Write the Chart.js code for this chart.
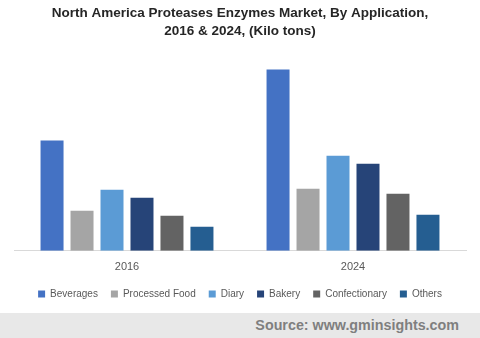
<!DOCTYPE html>
<html>
<head>
<meta charset="utf-8">
<script src="https://cdn.jsdelivr.net/npm/chart.js@4/dist/chart.umd.min.js"></script>
<style>
  html, body { margin: 0; padding: 0; background: #fff; }
  #wrap { position: relative; width: 480px; height: 313px; }
  #source {
    width: 480px; height: 25px; background: #e8e8e8;
    font: bold 14.3px "Liberation Sans", Arial, sans-serif; color: #7f7f7f;
    text-align: right; box-sizing: border-box; padding-right: 21px; line-height: 24px;
  }
</style>
</head>
<body>
<div id="wrap"><canvas id="chart"></canvas></div>
<div id="source">Source: www.gminsights.com</div>
<script>
var years = ['2016', '2024'];
var seriesNames = ['Beverages', 'Processed Food', 'Diary', 'Bakery', 'Confectionary', 'Others'];
var seriesColors = ['#4472c4', '#a5a5a5', '#5b9bd5', '#264478', '#636363', '#255e91'];
var beverages = [11.0, 18.1];
var processedFood = [4.0, 6.2];
var diary = [6.1, 9.5];
var bakery = [5.3, 8.7];
var confectionary = [3.5, 5.7];
var others = [2.4, 3.6];

var allValues = [beverages, processedFood, diary, bakery, confectionary, others];

var datasets = seriesNames.map(function(name, i) {
  return {
    label: name,
    data: allValues[i],
    backgroundColor: seriesColors[i],
    barPercentage: 0.767,
    categoryPercentage: 0.796
  };
});

var ctx = document.getElementById('chart').getContext('2d');
new Chart(ctx, {
  type: 'bar',
  data: { labels: years, datasets: datasets },
  options: {
    responsive: true,
    maintainAspectRatio: false,
    animation: false,
    layout: { padding: { left: 14, right: 14, top: 4, bottom: 4 } },
    plugins: {
      title: {
        display: true,
        text: ['North America Proteases Enzymes Market, By Application,', '2016 & 2024, (Kilo tons)'],
        color: '#262626',
        font: { family: '"Liberation Sans", Arial, sans-serif', size: 13.5, weight: 'bold', lineHeight: 1.35 },
        padding: { top: 0, bottom: 6 }
      },
      legend: {
        position: 'bottom',
        labels: {
          color: '#595959',
          font: { family: '"Liberation Sans", Arial, sans-serif', size: 10 },
          boxWidth: 7,
          boxHeight: 7,
          padding: 13
        }
      },
      tooltip: { enabled: false }
    },
    scales: {
      x: {
        grid: { display: false, drawTicks: false },
        border: { color: '#d9d9d9', width: 1 },
        ticks: { color: '#595959', font: { family: '"Liberation Sans", Arial, sans-serif', size: 11 }, padding: 10 },
        afterFit: function(scale) { scale.height -= 8; }
      },
      y: {
        display: false,
        min: 0,
        max: 20.4
      }
    }
  }
});
</script>
</body>
</html>
